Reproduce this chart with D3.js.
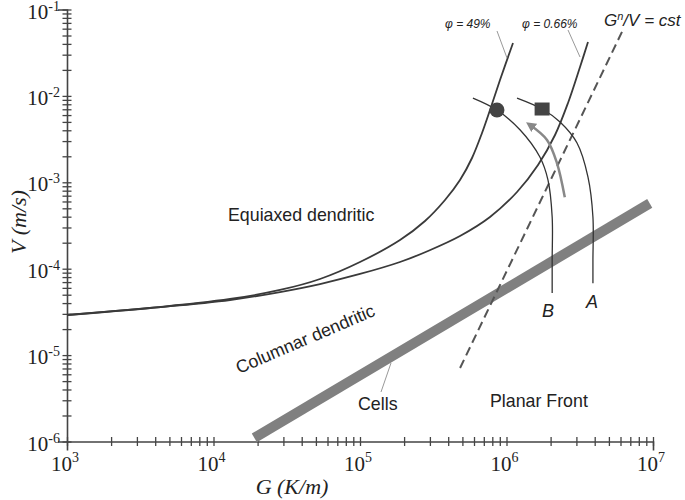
<!DOCTYPE html>
<html><head><meta charset="utf-8">
<script src="https://cdn.jsdelivr.net/npm/d3@7"></script>
<style>body{margin:0;background:#fff}svg{display:block}</style>
</head><body>
<svg id="c" width="685" height="500"></svg>
<script>
// ---- data ----
const xMajor = [1e3, 1e4, 1e5, 1e6, 1e7];
const xMajorExp = [3, 4, 5, 6, 7];
const yMajor = [1e-6, 1e-5, 1e-4, 1e-3, 1e-2, 1e-1];
const yMajorExp = [-6, -5, -4, -3, -2, -1];

// phi = 49% curve [G, V]
const phi49 = [[1e3,2.91e-5],[3.687e3,3.509e-5],[1.296e4,4.461e-5],[2.844e4,5.669e-5],[5.333e4,7.6e-5],[1.0e5,1.195e-4],[1.875e5,2.149e-4],[2.778e5,3.566e-4],[3.804e5,6.24e-4],[4.815e5,1.063e-3],[5.815e5,1.911e-3],[6.805e5,3.721e-3],[7.716e5,6.866e-3],[9.029e5,1.528e-2],[1.1076e6,4.095e-2]];
// phi = 0.66% curve
const phi066 = [[1e3,2.91e-5],[3.687e3,3.509e-5],[1.296e4,4.343e-5],[2.844e4,5.372e-5],[5.333e4,6.65e-5],[1.0e5,8.686e-5],[1.875e5,1.195e-4],[2.912e5,1.603e-4],[4.815e5,2.39e-4],[7.716e5,3.967e-4],[1.18e6,7.72e-4],[1.641e6,1.585e-3],[2.144e6,3.527e-3],[2.629e6,8.277e-3],[3.176e6,2.161e-2],[3.6e6,4.204e-2]];
// Cells band (V proportional to G)
const cells = [[1.9e4,1.1e-6],[9.5e6,5.7e-4]];
// G^n/V = cst
const gnv = [[4.82e5,7.1e-6],[6.14e6,5.5e-2]];
// cooling paths B and A
const pathB = [[5.9e5,9.44e-3],[8.61e5,6.86e-3],[1.24e6,4.03e-3],[1.69e6,1.96e-3],[1.92e6,1.06e-3],[2.05e6,3.96e-4],[2.05e6,1.26e-4],[2.05e6,5.24e-5]];
const pathA = [[1.18e6,9.44e-3],[1.75e6,7.05e-3],[2.32e6,4.98e-3],[3.03e6,2.85e-3],[3.6e6,1.15e-3],[3.89e6,3.96e-4],[3.89e6,1.26e-4],[3.89e6,6.8e-5]];
const arrow = [[2.5e6,6.7e-4],[2.21e6,1.67e-3],[1.89e6,3.09e-3],[1.45e6,4.6e-3]];
const circlePt = [8.61e5, 6.86e-3];
const squarePt = [1.75e6, 7.05e-3];

// ---- drawing ----
const svg = d3.select("#c");
const x = d3.scaleLog().domain([1e3,1e7]).range([67,653]);
const y = d3.scaleLog().domain([1e-6,1e-1]).range([441.5,9.5]);
const axisCol = "#444";

const minorX = [];
for (let e = 3; e < 7; e++) for (let m = 1; m < 10; m++) minorX.push(m*Math.pow(10,e));
minorX.push(1e7);
const minorY = [];
for (let e = -6; e < -1; e++) for (let m = 1; m < 10; m++) minorY.push(m*Math.pow(10,e));
minorY.push(1e-1);

const gx = svg.append("g").attr("transform","translate(0,441.5)")
  .call(d3.axisBottom(x).tickValues(minorX).tickSize(9).tickFormat(""));
gx.selectAll(".tick line").attr("y1",-4.5).attr("y2",4.5);
const gy = svg.append("g").attr("transform","translate(67,0)")
  .call(d3.axisLeft(y).tickValues(minorY).tickSize(9).tickFormat(""));
gy.selectAll(".tick line").attr("x1",4.5).attr("x2",-4.5);
svg.selectAll(".domain").attr("stroke",axisCol).attr("stroke-width",1.6);
svg.selectAll(".tick line").attr("stroke",axisCol).attr("stroke-width",1.3);

const serif = "Liberation Serif, Times New Roman, serif";
xMajor.forEach((v,i)=>{
  const t = svg.append("text").attr("x",x(v)-2).attr("y",471).attr("text-anchor","middle")
    .attr("font-family",serif).attr("font-size",21).attr("fill","#222");
  t.append("tspan").text("10");
  t.append("tspan").attr("dy",-9).attr("font-size",14).text(xMajorExp[i]);
});
yMajor.forEach((v,i)=>{
  const t = svg.append("text").attr("x",60).attr("y",y(v)+9).attr("text-anchor","end")
    .attr("font-family",serif).attr("font-size",21).attr("fill","#222");
  t.append("tspan").text("10");
  t.append("tspan").attr("dy",-8).attr("font-size",14).text(yMajorExp[i]);
});
svg.append("text").attr("x",292).attr("y",494).attr("text-anchor","middle")
  .attr("font-family",serif).attr("font-style","italic").attr("font-size",22).attr("fill","#222").text("G (K/m)");
svg.append("text").attr("transform","translate(26,222) rotate(-90)").attr("text-anchor","middle")
  .attr("font-family",serif).attr("font-style","italic").attr("font-size",22).attr("fill","#222").text("V (m/s)");

const line = d3.line().x(d=>x(d[0])).y(d=>y(d[1]));
const smooth = d3.line().x(d=>x(d[0])).y(d=>y(d[1])).curve(d3.curveCatmullRom.alpha(0.5));

svg.append("path").attr("d",line(cells)).attr("stroke","#808080").attr("stroke-width",10).attr("fill","none");
svg.append("path").attr("d",line(gnv)).attr("stroke","#555").attr("stroke-width",2).attr("stroke-dasharray","9,5").attr("fill","none");
[phi49, phi066].forEach(c=>{
  svg.append("path").attr("d",smooth(c)).attr("stroke","#3a3a3a").attr("stroke-width",1.8).attr("fill","none");
});
[pathB, pathA].forEach(c=>{
  svg.append("path").attr("d",smooth(c)).attr("stroke","#333").attr("stroke-width",1.3).attr("fill","none");
});
svg.append("defs").append("marker").attr("id","ah").attr("viewBox","0 0 10 10").attr("refX",5).attr("refY",5)
  .attr("markerWidth",4).attr("markerHeight",4).attr("orient","auto")
  .append("path").attr("d","M0,0L10,5L0,10z").attr("fill","#888");
svg.append("path").attr("d",smooth(arrow)).attr("stroke","#888").attr("stroke-width",2.5).attr("fill","none").attr("marker-end","url(#ah)");
svg.append("circle").attr("cx",x(circlePt[0])).attr("cy",y(circlePt[1])).attr("r",7.5).attr("fill","#444");
svg.append("rect").attr("x",x(squarePt[0])-7.5).attr("y",y(squarePt[1])-6.5).attr("width",15).attr("height",13).attr("fill","#444");

const sans = "Liberation Sans, Arial, sans-serif";
function txt(xx,yy,s,opt={}){
  const t = svg.append("text").attr("x",xx).attr("y",yy).attr("font-family",sans)
    .attr("font-size",opt.size||15).attr("fill",opt.fill||"#222").attr("text-anchor",opt.anchor||"start");
  if(opt.italic) t.attr("font-style","italic");
  if(opt.rot) t.attr("transform",`rotate(${opt.rot},${xx},${yy})`);
  if(s) t.text(s);
  return t;
}
txt(228,221,"Equiaxed dendritic",{size:17.8});
txt(239,374,"Columnar dendritic",{size:17.8,rot:-23.2});
txt(358,410,"Cells",{size:17.8});
txt(490,407,"Planar Front",{size:17.8});
txt(548,317,"B",{size:18,italic:true,anchor:"middle"});
txt(592,308,"A",{size:18,italic:true,anchor:"middle"});
txt(445,28,"\u03c6 = 49%",{size:12,italic:true});
txt(522,28,"\u03c6 = 0.66%",{size:12,italic:true});
const gt = txt(604,26,"",{size:17,italic:true});
gt.append("tspan").text("G");
gt.append("tspan").attr("dy",-6).attr("font-size",11).text("n");
gt.append("tspan").attr("dy",6).text("/V = cst");
[[497,31,507,58],[568,30,580,57],[381,392,391,363]].forEach(l=>{
  svg.append("line").attr("x1",l[0]).attr("y1",l[1]).attr("x2",l[2]).attr("y2",l[3]).attr("stroke","#999").attr("stroke-width",1);
});
</script>
</body></html>
